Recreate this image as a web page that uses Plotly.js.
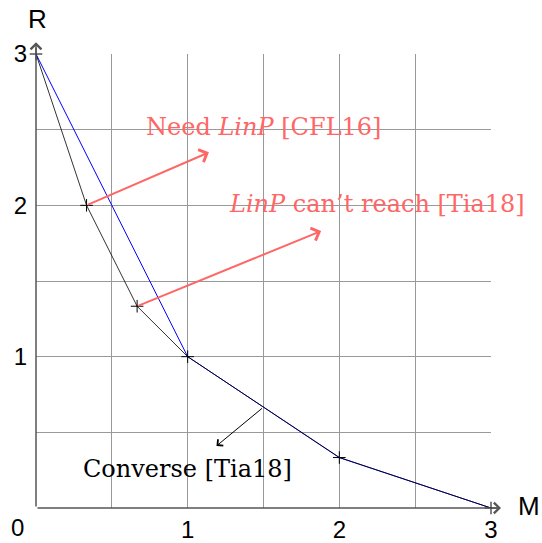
<!DOCTYPE html>
<html>
<head>
<meta charset="utf-8">
<script src="https://cdn.plot.ly/plotly-3.0.1.min.js"></script>
<style>html,body{margin:0;padding:0;background:#fff;}#chart{width:542px;height:543px;}</style>
</head>
<body>
<div id="chart"></div>
<script>
// Lower curve (black, with + marks at vertices)
const lowerM = [0, 1/3, 2/3, 1, 2, 3];
const lowerR = [3, 2, 4/3, 1, 1/3, 0];
// Upper curve (blue)
const upperM = [0, 1, 2, 3];
const upperR = [3, 1, 1/3, 0];
// Tick labels
const tickVals = [0.5, 1, 1.5, 2, 2.5, 3];
const tickText = ['', '1', '', '2', '', '3'];
// Annotation arrows: tails and tips
const needTail = [1/3, 2], needTip = [1.14, 2.35];
const reachTail = [2/3, 4/3], reachTip = [1.88, 1.83];
const convTail = [1.5, 2/3], convTip = [1.19, 0.41];
// Labels
const labels = [
  {text: 'Need <i>LinP</i> [CFL16]', m: 1.5, r: 2.52, color: '#ff6666'},
  {text: '<i>LinP</i> can\u2019t reach [Tia18]', m: 2.25, r: 2.01, color: '#ff6666'},
  {text: 'Converse [Tia18]', m: 1.0, r: 0.26, color: '#000000'}
];

const serif = 'DejaVu Serif, serif';
const sans = 'Liberation Sans, Arial, sans-serif';

const traces = [
  {x: upperM, y: upperR, mode: 'lines', line: {color: '#0000ff', width: 1}, hoverinfo: 'skip', cliponaxis: false},
  {x: lowerM, y: lowerR, mode: 'lines+markers', line: {color: 'rgba(0,0,0,0.8)', width: 1},
   marker: {symbol: 'cross-thin', size: 9, line: {color: '#000', width: 1}}, hoverinfo: 'skip', cliponaxis: false}
];

const annotations = [];
function arrow(tail, tip, color, width, size) {
  annotations.push({x: tip[0], y: tip[1], ax: tail[0], ay: tail[1], xref: 'x', yref: 'y', axref: 'x', ayref: 'y',
    showarrow: true, arrowhead: 4, arrowsize: size, arrowwidth: width, arrowcolor: color, text: ''});
}
arrow(needTail, needTip, '#ff6666', 2, 1.3);
arrow(reachTail, reachTip, '#ff6666', 2, 1.3);
arrow(convTail, convTip, '#000000', 1, 1.6);
labels.forEach(l => annotations.push({x: l.m, y: l.r, xref: 'x', yref: 'y', text: l.text, showarrow: false,
  font: {family: serif, size: 24, color: l.color}}));
// Axes arrows
annotations.push({x: 1.022, y: 0, ax: 0, ay: 0, xref: 'paper', yref: 'paper', axref: 'paper', ayref: 'paper',
  showarrow: true, arrowhead: 4, arrowsize: 1.4, arrowwidth: 1.5, arrowcolor: '#555', text: ''});
annotations.push({x: 0, y: 1.026, ax: 0, ay: 0, xref: 'paper', yref: 'paper', axref: 'paper', ayref: 'paper',
  showarrow: true, arrowhead: 4, arrowsize: 1.4, arrowwidth: 1.5, arrowcolor: '#555', text: ''});
// Axis titles and origin
annotations.push({x: 1.055, y: 0.005, xref: 'paper', yref: 'paper', xanchor: 'left', yanchor: 'middle', text: 'M', showarrow: false, font: {family: sans, size: 26, color: '#000'}});
annotations.push({x: 0.004, y: 1.077, xref: 'paper', yref: 'paper', xanchor: 'center', yanchor: 'middle', text: 'R', showarrow: false, font: {family: sans, size: 26, color: '#000'}});
annotations.push({x: -0.04, y: -0.042, xref: 'paper', yref: 'paper', xanchor: 'center', yanchor: 'middle', text: '0', showarrow: false, font: {family: sans, size: 24, color: '#000'}});

const axisCommon = {
  range: [0, 3], tickvals: tickVals, ticktext: tickText, showgrid: true, gridcolor: '#999', gridwidth: 1,
  zeroline: false, showline: false, ticks: '', tickfont: {family: sans, size: 24, color: '#000'}, fixedrange: true
};

const layout = {
  width: 542, height: 543, margin: {l: 36, r: 51, t: 54, b: 35}, showlegend: false,
  paper_bgcolor: '#fff', plot_bgcolor: '#fff',
  xaxis: Object.assign({}, axisCommon, {ticklabelstandoff: 5}),
  yaxis: Object.assign({}, axisCommon, {ticklabelstandoff: 8}),
  annotations: annotations
};

Plotly.newPlot('chart', traces, layout, {staticPlot: true});
</script>
</body>
</html>
